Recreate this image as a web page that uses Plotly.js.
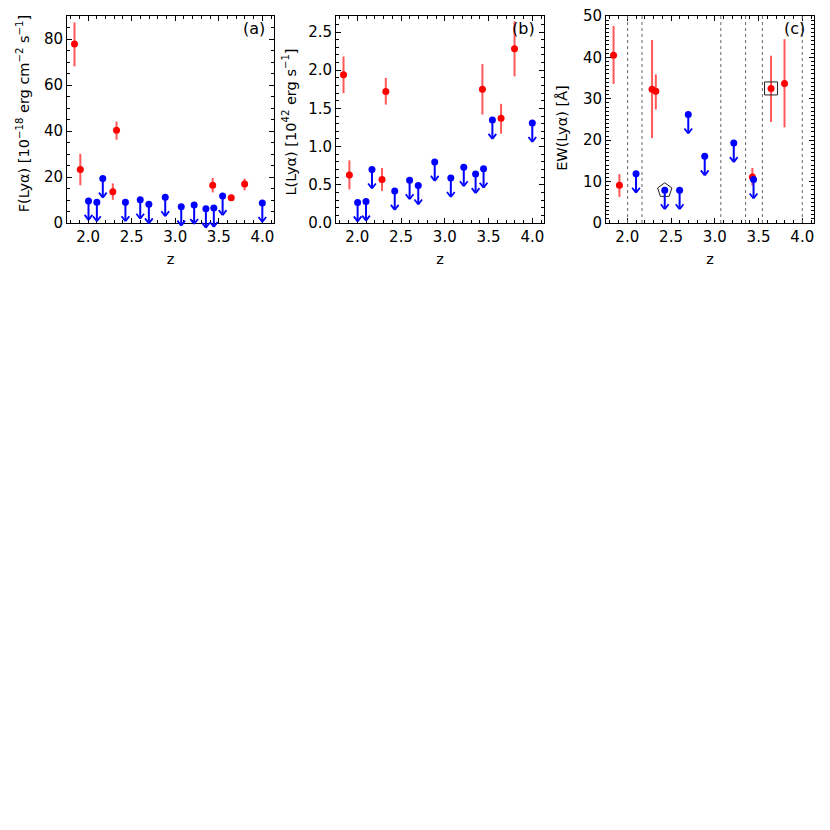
<!DOCTYPE html>
<html>
<head>
<meta charset="utf-8">
<script src="https://cdn.plot.ly/plotly-3.0.1.min.js"></script>
<style>
  body { margin: 0; background: #fff; }
  #chart { width: 830px; height: 830px; }
</style>
</head>
<body>
<div id="chart"></div>
<script>
// Lya detections (red points)
var zDet      = [1.843, 1.910, 2.283, 2.326, 3.430, 3.643, 3.797];
var fluxDet   = [77.8, 23.3, 13.6, 40.3, 16.4, 11.0, 17.0];
var fluxDetHi = [87.2, 30.1, 17.2, 44.1, 19.6, 12.1, 19.3];
var fluxDetLo = [68.1, 16.4, 10.1, 36.2, 13.3, 9.9, 14.2];
var lumDet    = [1.94, 0.63, 0.57, 1.72, 1.75, 1.37, 2.28];
var lumDetHi  = [2.18, 0.82, 0.72, 1.90, 2.08, 1.56, 2.64];
var lumDetLo  = [1.70, 0.44, 0.42, 1.55, 1.42, 1.17, 1.92];
var ewDet     = [40.5, 9.1, 32.3, 31.8, 11.1, 32.5, 33.7];
var ewDetHi   = [47.6, 11.8, 44.2, 35.9, 13.3, 40.4, 44.4];
var ewDetLo   = [33.6, 6.3, 20.5, 27.4, 9.0, 24.4, 23.1];

// upper limits (blue points with arrows); null = no EW measured
var zLim    = [2.004, 2.100, 2.168, 2.428, 2.598, 2.697, 2.885, 3.069, 3.217, 3.352, 3.443, 3.544, 4.000];
var fluxLim = [9.6, 9.0, 19.3, 9.0, 10.1, 8.1, 11.2, 7.1, 7.8, 6.2, 6.5, 11.7, 8.7];
var lumLim  = [0.27, 0.28, 0.70, 0.42, 0.56, 0.49, 0.80, 0.59, 0.73, 0.64, 0.71, 1.35, 1.31];
var ewLim   = [null, 11.9, null, 7.9, 7.9, 26.2, 16.1, null, 19.3, null, 10.5, null, null];

// flagged objects in panel (c)
var pentZ = [2.428], pentEW = [7.9];
var sqZ = [3.643], sqEW = [32.5];

var yTitles = ['F(Lyα) [10<sup>−18</sup> erg cm<sup>−2</sup> s<sup>−1</sup>]',
               'L(Lyα) [10<sup>42</sup> erg s<sup>−1</sup>]',
               'EW(Lyα) [Å]'];

var fontFam = 'DejaVu Sans, sans-serif';
var red = '#ff0000', blue = '#0000ff';

function diff(a, b) { return a.map(function(v, i) { return v - b[i]; }); }

function detTrace(y, hi, lo, ax) {
  return {
    x: zDet, y: y, xaxis: 'x' + ax, yaxis: 'y' + ax,
    mode: 'markers', type: 'scatter',
    marker: {color: red, size: 7},
    error_y: {type: 'data', symmetric: false, array: diff(hi, y), arrayminus: diff(y, lo),
              color: '#ff5858', thickness: 2, width: 0},
    cliponaxis: false, showlegend: false, hoverinfo: 'skip'
  };
}

function limTrace(y, ax) {
  var xs = [], ys = [];
  y.forEach(function(v, i) { if (v !== null) { xs.push(zLim[i]); ys.push(v); } });
  return {
    x: xs, y: ys, xaxis: 'x' + ax, yaxis: 'y' + ax,
    mode: 'markers', type: 'scatter',
    marker: {color: blue, size: 7},
    cliponaxis: false, showlegend: false, hoverinfo: 'skip'
  };
}

// upper-limit arrows: shaft of fixed pixel length below each blue dot, open V head at its tip
var arrowLen = 19, headW = 5, headH = 6.5;
function limArrows(y, ax) {
  var out = [];
  y.forEach(function(v, i) {
    if (v === null) return;
    var base = {xref: 'x' + ax, yref: 'y' + ax, x: zLim[i], y: v, text: '', showarrow: true,
                arrowhead: 0, arrowcolor: blue, standoff: 0, startstandoff: 0};
    out.push(Object.assign({}, base, {ax: 0, ay: arrowLen, arrowwidth: 2}));
    out.push(Object.assign({}, base, {yshift: -arrowLen, ax: -headW, ay: -headH, arrowwidth: 1.8}));
    out.push(Object.assign({}, base, {yshift: -arrowLen, ax: headW, ay: -headH, arrowwidth: 1.8}));
  });
  return out;
}

var data = [
  detTrace(fluxDet, fluxDetHi, fluxDetLo, ''),
  limTrace(fluxLim, ''),
  detTrace(lumDet, lumDetHi, lumDetLo, '2'),
  limTrace(lumLim, '2'),
  detTrace(ewDet, ewDetHi, ewDetLo, '3'),
  limTrace(ewLim, '3'),
  {x: pentZ, y: pentEW, xaxis: 'x3', yaxis: 'y3', mode: 'markers', type: 'scatter',
   marker: {symbol: 'pentagon-open', size: 15, color: '#222', line: {width: 1}},
   showlegend: false, hoverinfo: 'skip'},
  {x: sqZ, y: sqEW, xaxis: 'x3', yaxis: 'y3', mode: 'markers', type: 'scatter',
   marker: {symbol: 'square-open', size: 13, color: '#222', line: {width: 1}},
   showlegend: false, hoverinfo: 'skip'}
];

function xAxis(dom, anchor) {
  return {
    domain: dom, anchor: anchor, range: [1.757, 4.134],
    tick0: 2, dtick: 0.5, tickformat: '.1f',
    ticks: 'inside', ticklen: 5, tickwidth: 1, tickcolor: '#000',
    minor: {dtick: 0.1, ticks: 'inside', ticklen: 3, tickcolor: '#000'},
    mirror: 'allticks', showline: true, linecolor: '#000', linewidth: 1,
    showgrid: false, zeroline: false,
    tickfont: {family: fontFam, size: 15, color: '#000'},
    title: {text: 'z', font: {family: fontFam, size: 14.5, color: '#000'}, standoff: 8}
  };
}

function yAxis(range, dtick, minor, fmt, anchor) {
  return {
    domain: [0, 1], anchor: anchor, range: range,
    dtick: dtick, tickformat: fmt,
    ticks: 'inside', ticklen: 5, tickwidth: 1, tickcolor: '#000',
    minor: {dtick: minor, ticks: 'inside', ticklen: 3, tickcolor: '#000'},
    mirror: 'allticks', showline: true, linecolor: '#000', linewidth: 1,
    showgrid: false, zeroline: false,
    tickfont: {family: fontFam, size: 15, color: '#000'}
  };
}

var shapes = [];
ewLim.forEach(function(v, i) {
  if (v === null) {
    shapes.push({type: 'line', xref: 'x3', yref: 'y3 domain', x0: zLim[i], x1: zLim[i], y0: 0, y1: 1,
                 line: {color: '#666', width: 1, dash: 'dot'}});
  }
});

var panelLabels = ['(a)', '(b)', '(c)'].map(function(t, i) {
  var s = i === 0 ? '' : String(i + 1);
  return {xref: 'x' + s + ' domain', yref: 'y' + s + ' domain', x: 0.965, y: 0.94,
          xanchor: 'right', yanchor: 'middle', text: t, showarrow: false,
          font: {family: fontFam, size: 16, color: '#000'}};
});

// y-axis titles placed as rotated annotations left of each panel
var titleShift = [-44, -47, -44];
var titleY = [0.53, 0.49, 0.46];
var yTitleAnns = yTitles.map(function(t, i) {
  var s = i === 0 ? '' : String(i + 1);
  return {xref: 'x' + s + ' domain', yref: 'y' + s + ' domain', x: 0, y: titleY[i],
          xshift: titleShift[i], xanchor: 'center', yanchor: 'middle', textangle: -90,
          text: t, showarrow: false, font: {family: fontFam, size: 14.5, color: '#000'}};
});

var layout = {
  width: 830, height: 830,
  margin: {l: 67, r: 16, t: 15.5, b: 607},
  paper_bgcolor: '#fff', plot_bgcolor: '#fff',
  showlegend: false,
  xaxis: xAxis([0, 0.2771], 'y'),
  yaxis: yAxis([0, 90], 20, 5, 'd', 'x'),
  xaxis2: xAxis([0.3601, 0.6386], 'y2'),
  yaxis2: yAxis([0, 2.71], 0.5, 0.1, '.1f', 'x2'),
  xaxis3: xAxis([0.7216, 1], 'y3'),
  yaxis3: yAxis([0, 50], 10, 1, 'd', 'x3'),
  shapes: shapes,
  annotations: panelLabels.concat(yTitleAnns, limArrows(fluxLim, ''), limArrows(lumLim, '2'), limArrows(ewLim, '3'))
};

Plotly.newPlot('chart', data, layout, {displayModeBar: false, staticPlot: true});
</script>
</body>
</html>
